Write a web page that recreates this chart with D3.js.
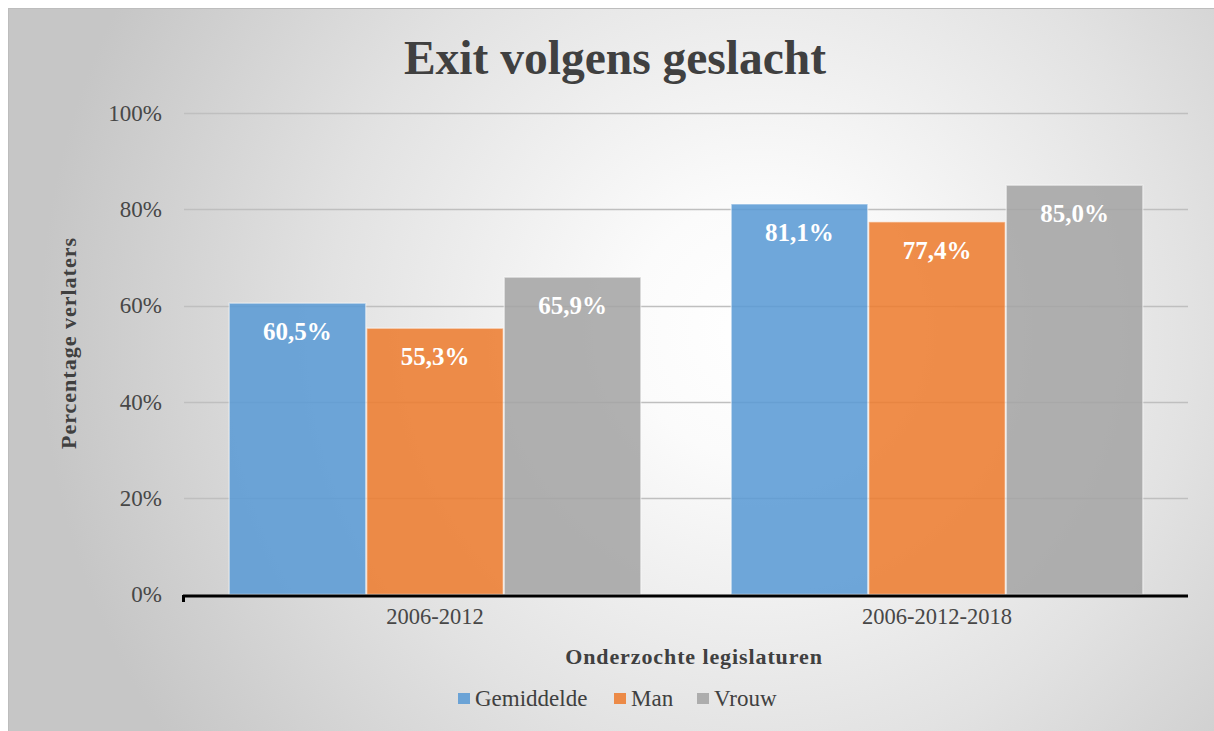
<!DOCTYPE html>
<html><head><meta charset="utf-8">
<script src="https://cdn.jsdelivr.net/npm/d3@7"></script>
<style>
html,body{margin:0;padding:0;background:#fff;}
svg{display:block;}
</style></head>
<body>
<svg id="chart" width="1214" height="731"></svg>
<script>
const categories = ["2006-2012", "2006-2012-2018"];
const seriesNames = ["Gemiddelde", "Man", "Vrouw"];
const seriesColors = ["#5b9bd5", "#ed7d31", "#a5a5a5"];
const gemiddelde = [60.5, 81.1];
const man = [55.3, 77.4];
const vrouw = [65.9, 85.0];
const yTicks = [0, 20, 40, 60, 80, 100];
const titleText = "Exit volgens geslacht";
const yTitle = "Percentage verlaters";
const xTitle = "Onderzochte legislaturen";

const seriesValues = [gemiddelde, man, vrouw];
const svg = d3.select("#chart");
const serif = "'Liberation Serif','Times New Roman',serif";

// background
const defs = svg.append("defs");
const rg = defs.append("radialGradient").attr("id","bg")
  .attr("gradientUnits","userSpaceOnUse")
  .attr("cx",760).attr("cy",330).attr("r",720).attr("fx",760).attr("fy",330);
rg.append("stop").attr("offset","0").attr("stop-color","#ffffff");
rg.append("stop").attr("offset","0.18").attr("stop-color","#fbfbfb");
rg.append("stop").attr("offset","0.6").attr("stop-color","#e2e2e2");
rg.append("stop").attr("offset","1").attr("stop-color","#c6c6c6");
svg.append("rect").attr("x",8).attr("y",8).attr("width",1206).attr("height",723).attr("fill","#bdbdbd");
svg.append("rect").attr("x",9).attr("y",9).attr("width",1205).attr("height",722).attr("fill","url(#bg)");

const margin = {left:184, right:1188, top:113, bottom:594.5};
const x0 = d3.scaleBand().domain(categories).range([margin.left, margin.right]).paddingInner(0).paddingOuter(0);
const x1 = d3.scaleBand().domain(seriesNames).range([0, x0.bandwidth()]).paddingOuter(0.325).paddingInner(0);
const y = d3.scaleLinear().domain([0,100]).range([margin.bottom, margin.top]);

// gridlines
svg.append("g").selectAll("line").data(yTicks.filter(d=>d>0)).join("line")
  .attr("x1",margin.left).attr("x2",margin.right)
  .attr("y1",d=>Math.round(y(d))+0.5).attr("y2",d=>Math.round(y(d))+0.5)
  .attr("stroke","#bfbfbf").attr("stroke-width",1.3);

// y axis labels
const yAxis = d3.axisLeft(y).tickValues(yTicks).tickFormat(d=>d+"%").tickSize(0).tickPadding(0);
const gy = svg.append("g").attr("transform",`translate(162,0)`).call(yAxis);
gy.select(".domain").remove();
gy.selectAll("text").attr("font-family",serif).attr("font-size",23).attr("fill","#474747").attr("dy","0.32em");

// bars
const groups = svg.append("g").selectAll("g").data(categories).join("g")
  .attr("transform",d=>`translate(${x0(d)},0)`);
groups.selectAll("rect").data((c,i)=>seriesNames.map((s,j)=>({s, j, v:seriesValues[j][i]}))).join("rect")
  .attr("x",d=>x1(d.s)+0.5).attr("width",x1.bandwidth()-1)
  .attr("y",d=>y(d.v)).attr("height",d=>y(0)-y(d.v))
  .attr("fill",d=>seriesColors[d.j]).attr("fill-opacity",0.88)
  .attr("stroke","#ffffff").attr("stroke-opacity",0.45).attr("stroke-width",1.5);
groups.selectAll("text").data((c,i)=>seriesNames.map((s,j)=>({s, j, v:seriesValues[j][i]}))).join("text")
  .attr("x",d=>x1(d.s)+x1.bandwidth()/2).attr("y",d=>y(d.v)+37)
  .attr("text-anchor","middle").attr("font-family",serif).attr("font-weight","bold")
  .attr("font-size",25).attr("fill","#ffffff")
  .text(d=>d.v.toFixed(1).replace(".",",")+"%");

// x axis
const xAxis = d3.axisBottom(x0).tickSize(0).tickPadding(0);
const gx = svg.append("g").attr("transform",`translate(0,624)`).call(xAxis);
gx.select(".domain").remove();
gx.selectAll("text").attr("font-family",serif).attr("font-size",22.5).attr("fill","#474747").attr("dy",0);
svg.append("line").attr("x1",margin.left-1).attr("x2",margin.right).attr("y1",596).attr("y2",596)
  .attr("stroke","#000").attr("stroke-width",3);
svg.append("line").attr("x1",margin.left-0.5).attr("x2",margin.left-0.5).attr("y1",595).attr("y2",602)
  .attr("stroke","#000").attr("stroke-width",3);

// titles
svg.append("text").attr("x",615).attr("y",74).attr("text-anchor","middle")
  .attr("font-family",serif).attr("font-weight","bold").attr("font-size",47.5).attr("fill","#404040").text(titleText);
svg.append("text").attr("transform","translate(76,343) rotate(-90)").attr("text-anchor","middle")
  .attr("font-family",serif).attr("font-weight","bold").attr("font-size",22).attr("fill","#404040")
  .attr("letter-spacing",1).text(yTitle);
svg.append("text").attr("x",694).attr("y",664).attr("text-anchor","middle")
  .attr("font-family",serif).attr("font-weight","bold").attr("font-size",22).attr("fill","#404040")
  .attr("letter-spacing",0.9).text(xTitle);

// legend
const legendX = [458, 614, 697];
const lg = svg.append("g").selectAll("g").data(seriesNames).join("g")
  .attr("transform",(d,i)=>`translate(${legendX[i]},698)`);
lg.append("rect").attr("x",0).attr("y",-5).attr("width",12).attr("height",11)
  .attr("fill",(d,i)=>seriesColors[i]).attr("fill-opacity",0.88);
lg.append("text").attr("x",17).attr("y",8).attr("font-family",serif).attr("font-size",23)
  .attr("fill","#404040").text(d=>d);
</script>
</body></html>
